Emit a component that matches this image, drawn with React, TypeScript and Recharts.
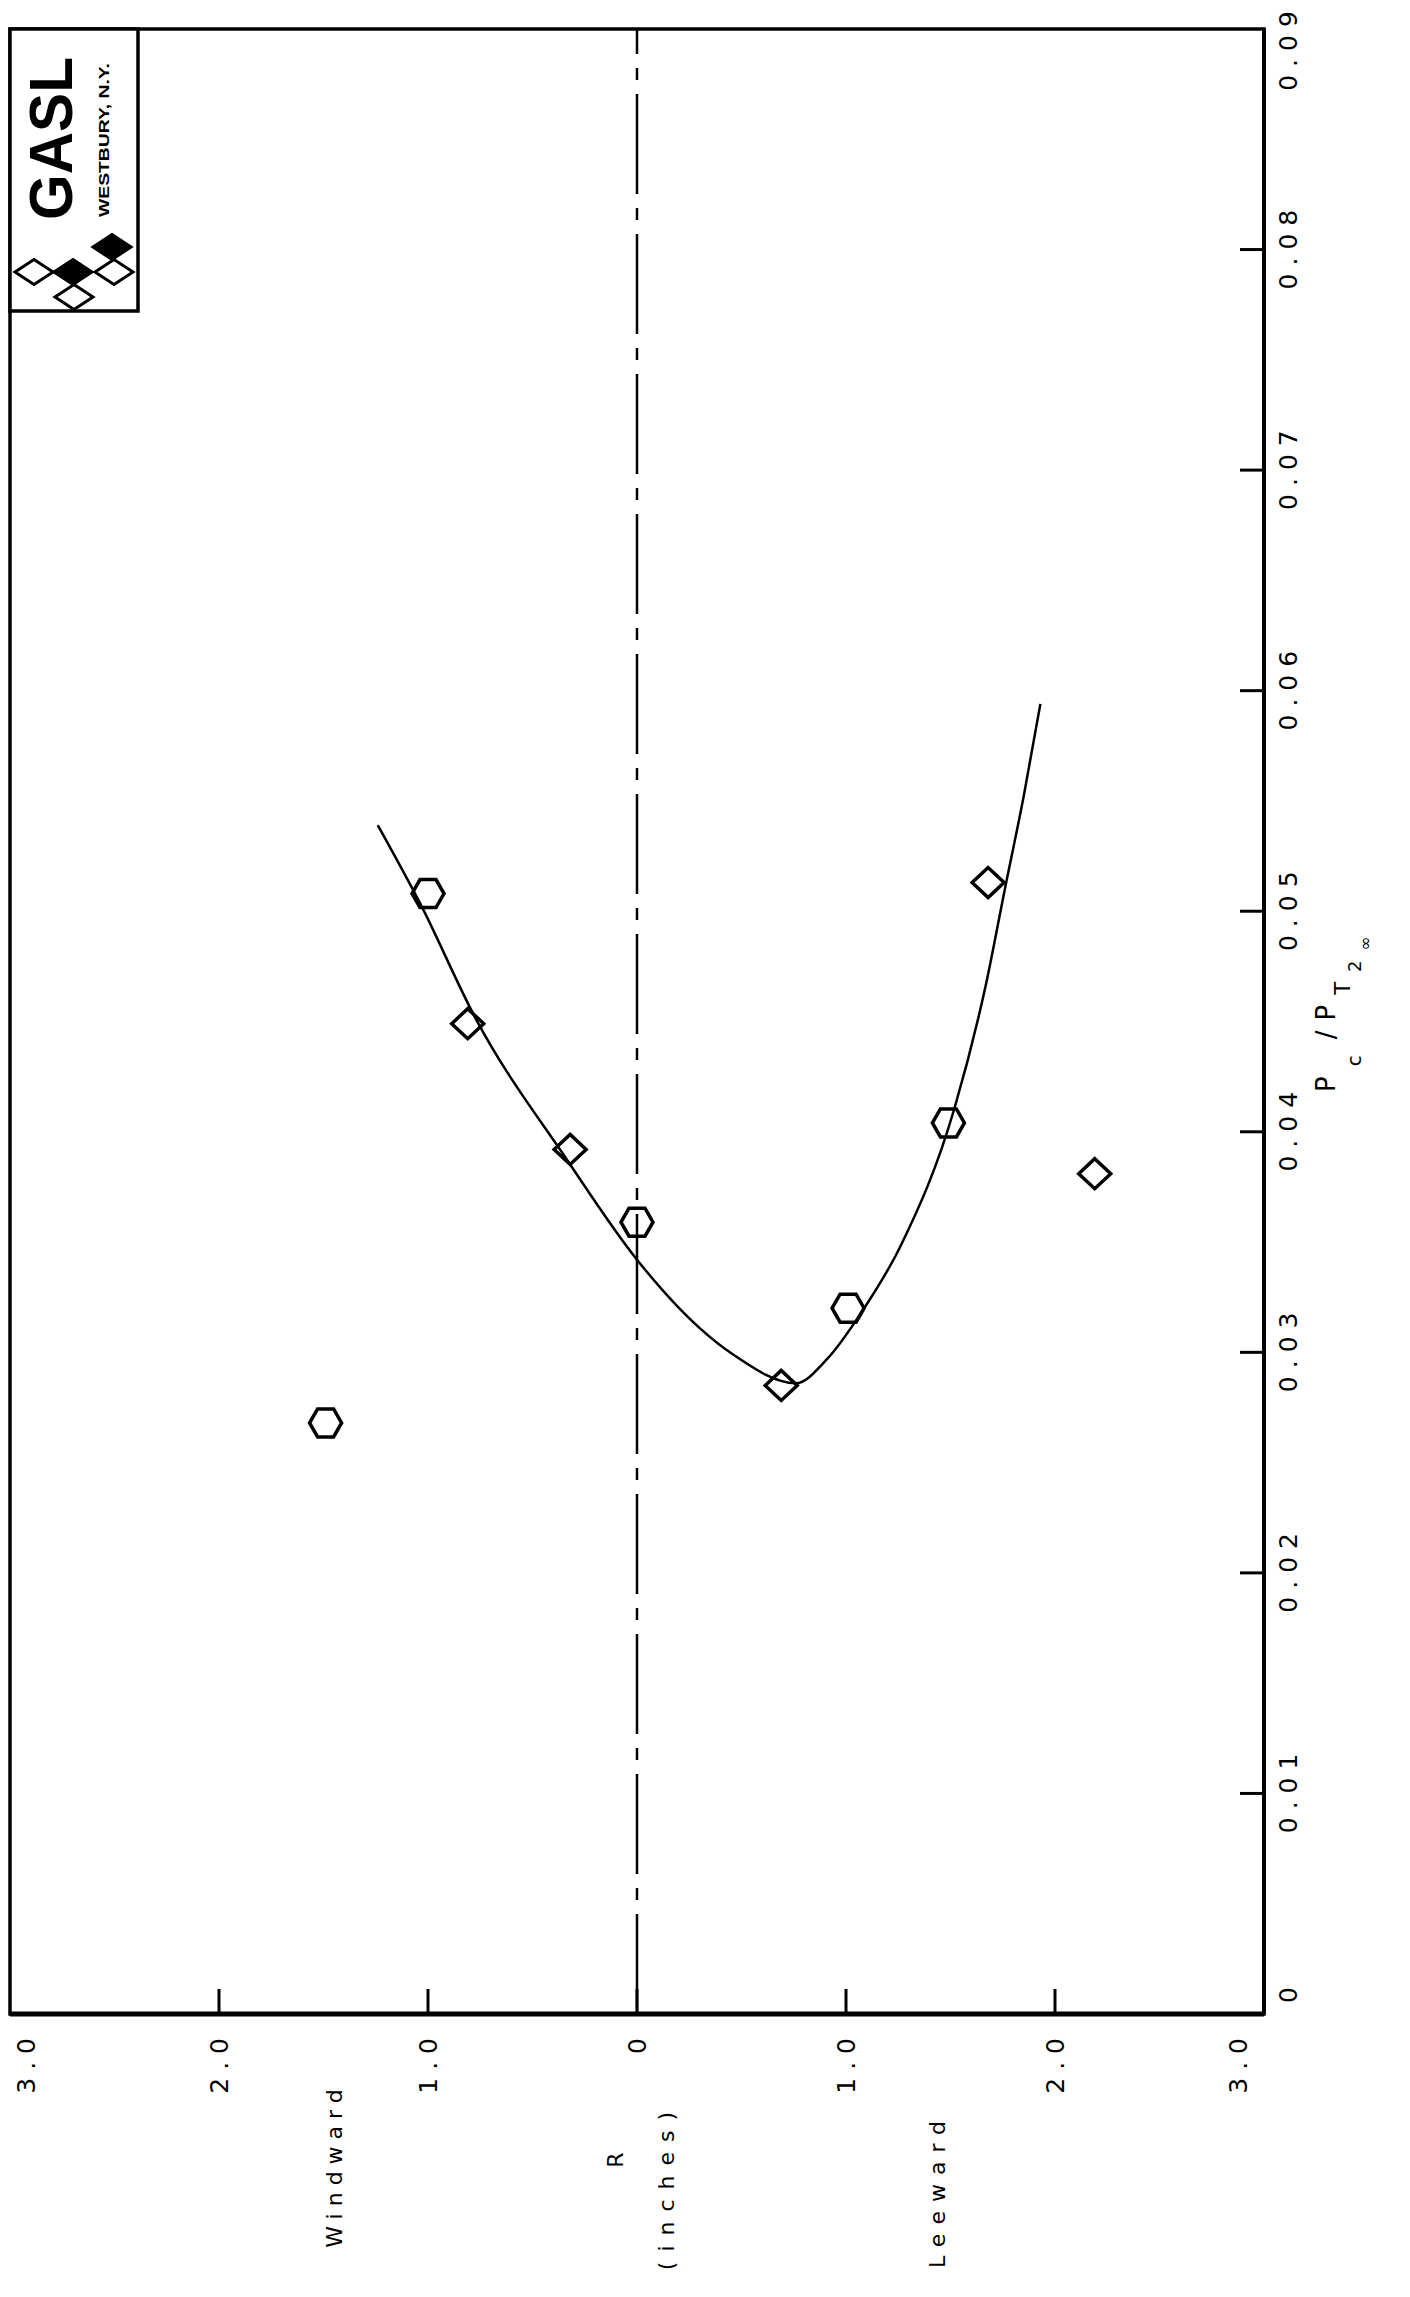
import React from 'react';
import { ComposedChart, Line, Scatter, XAxis, YAxis, ReferenceLine, ReferenceArea } from 'recharts';

// R in inches: negative = windward side, positive = leeward side
const hexagonR = [-1.49, -1.0, 0, 1.01, 1.49];
const hexagonP = [0.0268, 0.0508, 0.0359, 0.032, 0.0404];

const diamondR = [-0.81, -0.32, 0.69, 1.68, 2.19];
const diamondP = [0.0449, 0.0392, 0.0285, 0.0513, 0.0381];

// faired curve through the data
const curveR = [-1.24, -1.04, -0.77, -0.34, 0, 0.3, 0.46, 0.76, 0.91, 1.08, 1.26, 1.52, 1.67, 1.76, 1.85, 1.93];
const curveP = [0.0539, 0.0504, 0.0451, 0.0388, 0.0342, 0.0311, 0.0299, 0.0286, 0.0297, 0.0319, 0.0348, 0.0411, 0.0467, 0.051, 0.0552, 0.0594];

const rTicks = [-3, -2, -1, 0, 1, 2, 3];
const pTicks = [0, 0.01, 0.02, 0.03, 0.04, 0.05, 0.06, 0.07, 0.08, 0.09];

const FONT = '"DejaVu Sans", sans-serif';

const hexagons = hexagonR.map((r, i) => ({ r, p: hexagonP[i] }));
const diamonds = diamondR.map((r, i) => ({ r, p: diamondP[i] }));
const curve = curveR.map((r, i) => ({ r, p: curveP[i] }));

const Hexagon = (props: any) => {
  const { cx, cy } = props;
  const w = 16;
  const h = 14;
  const pts = [[-w, 0], [-w / 2, -h], [w / 2, -h], [w, 0], [w / 2, h], [-w / 2, h]]
    .map(([dx, dy]) => `${cx + dx},${cy + dy}`)
    .join(' ');
  return <polygon points={pts} fill="none" stroke="#000" strokeWidth={3.5} />;
};

const Diamond = (props: any) => {
  const { cx, cy } = props;
  const w = 16;
  const h = 15;
  const pts = `${cx - w},${cy} ${cx},${cy - h} ${cx + w},${cy} ${cx},${cy + h}`;
  return <polygon points={pts} fill="none" stroke="#000" strokeWidth={3.5} />;
};

// bottom axis: inward ticks, labels turned sideways
const RTick = (props: any) => {
  const { x, y, payload } = props;
  const v = payload.value;
  const edge = Math.abs(v) === 3;
  const shift = v === -3 ? 16 : v === 3 ? -26 : 0;
  const label = v === 0 ? '0' : Math.abs(v).toFixed(1);
  return (
    <g>
      {!edge && <line x1={x} y1={y} x2={x} y2={y - 25} stroke="#000" strokeWidth={3} />}
      <text
        transform={`translate(${x + shift},${y + 16}) rotate(-90)`}
        textAnchor="end"
        dy="0.35em"
        fontSize={25}
        letterSpacing={8}
        fill="#000"
        fontFamily={FONT}
      >
        {label}
      </text>
    </g>
  );
};

// right axis
const PTick = (props: any) => {
  const { x, y, payload } = props;
  const v = payload.value;
  const edge = v === 0 || v === 0.09;
  const cy = v === 0 ? y - 23 : v === 0.09 ? y + 18 : y - 4;
  const label = v === 0 ? '0' : v.toFixed(2);
  return (
    <g>
      {!edge && <line x1={x} y1={y} x2={x - 24} y2={y} stroke="#000" strokeWidth={3} />}
      <text
        transform={`translate(${x + 24},${cy}) rotate(-90)`}
        textAnchor="middle"
        dy="0.35em"
        fontSize={25}
        letterSpacing={8}
        fill="#000"
        fontFamily={FONT}
      >
        {label}
      </text>
    </g>
  );
};

const sideText = (x: number, y: number, text: string, spacing: number) => (
  <text
    transform={`translate(${x},${y}) rotate(-90)`}
    textAnchor="middle"
    dy="0.35em"
    fontSize={22}
    letterSpacing={spacing}
    fill="#000"
    fontFamily={FONT}
  >
    {text}
  </text>
);

const diamondPts = (cx: number, cy: number) => `${cx - 19},${cy} ${cx},${cy - 12.5} ${cx + 19},${cy} ${cx},${cy + 12.5}`;

const App = () => {
  return (
    <div style={{ position: 'absolute', left: 0, top: 0, width: 1410, height: 2297, background: '#fff' }}>
      <div style={{ position: 'absolute', left: 0, top: 0 }}>
        <ComposedChart width={1410} height={2297} margin={{ top: 29, right: 46, bottom: 223, left: 10 }}>
          <XAxis
            type="number"
            dataKey="r"
            domain={[-3, 3]}
            ticks={rTicks}
            interval={0}
            allowDataOverflow
            height={60}
            tickLine={false}
            tickSize={0}
            tickMargin={0}
            axisLine={{ stroke: '#000', strokeWidth: 5 }}
            tick={<RTick />}
          />
          <YAxis
            type="number"
            dataKey="p"
            orientation="right"
            domain={[0, 0.09]}
            ticks={pTicks}
            interval={0}
            allowDataOverflow
            width={100}
            tickLine={false}
            tickSize={0}
            tickMargin={0}
            axisLine={{ stroke: '#000', strokeWidth: 4 }}
            tick={<PTick />}
          />
          <ReferenceArea x1={-3} x2={3} y1={0} y2={0.09} fill="none" stroke="#000" strokeWidth={3.5} fillOpacity={0} />
          <ReferenceLine x={0} stroke="#000" strokeWidth={2.5} strokeDasharray="100 14 12 14" />
          <Line
            data={curve}
            dataKey="p"
            type="monotone"
            stroke="#000"
            strokeWidth={2.5}
            dot={false}
            activeDot={false}
            isAnimationActive={false}
          />
          <Scatter data={hexagons} dataKey="p" shape={Hexagon} isAnimationActive={false} />
          <Scatter data={diamonds} dataKey="p" shape={Diamond} isAnimationActive={false} />
        </ComposedChart>
      </div>
      <svg
        width={1410}
        height={2297}
        style={{ position: 'absolute', left: 0, top: 0, pointerEvents: 'none' }}
      >
        {/* logo box */}
        <rect x={10} y={29} width={128} height={282} fill="#fff" stroke="#000" strokeWidth={3.5} />
        <text
          transform="translate(72,220) rotate(-90)"
          fontSize={62}
          fontWeight="bold"
          fontFamily='"Liberation Sans", sans-serif'
          textLength={163}
          lengthAdjust="spacingAndGlyphs"
          fill="#000"
        >
          GASL
        </text>
        <text
          transform="translate(109,217) rotate(-90)"
          fontSize={15}
          fontWeight="bold"
          fontFamily='"Liberation Sans", sans-serif'
          textLength={154}
          lengthAdjust="spacingAndGlyphs"
          fill="#000"
        >
          WESTBURY,   N.Y.
        </text>
        <polygon points={diamondPts(34, 272)} fill="#fff" stroke="#000" strokeWidth={3} />
        <polygon points={diamondPts(114, 272)} fill="#fff" stroke="#000" strokeWidth={3} />
        <polygon points={diamondPts(74, 297)} fill="#fff" stroke="#000" strokeWidth={3} />
        <polygon points={diamondPts(73, 272)} fill="#000" stroke="#000" strokeWidth={3} />
        <polygon points={diamondPts(112, 247)} fill="#000" stroke="#000" strokeWidth={3} />

        {/* right axis title */}
        <text
          transform="translate(1335,1092) rotate(-90)"
          fontSize={26}
          letterSpacing={10}
          fill="#000"
          fontFamily={FONT}
        >
          P
          <tspan dy={26} fontSize={20}>c</tspan>
          <tspan dy={-26} dx={6}>/P</tspan>
          <tspan dy={15} fontSize={21}>T</tspan>
          <tspan dy={11} fontSize={18}>2</tspan>
          <tspan dy={10} fontSize={17}>∞</tspan>
        </text>

        {/* bottom axis titles */}
        {sideText(334, 2165, 'Windward', 7)}
        {sideText(615, 2160, 'R', 0)}
        {sideText(666, 2186, '(inches)', 10)}
        {sideText(937, 2190, 'Leeward', 9)}
      </svg>
    </div>
  );
};

export default App;
